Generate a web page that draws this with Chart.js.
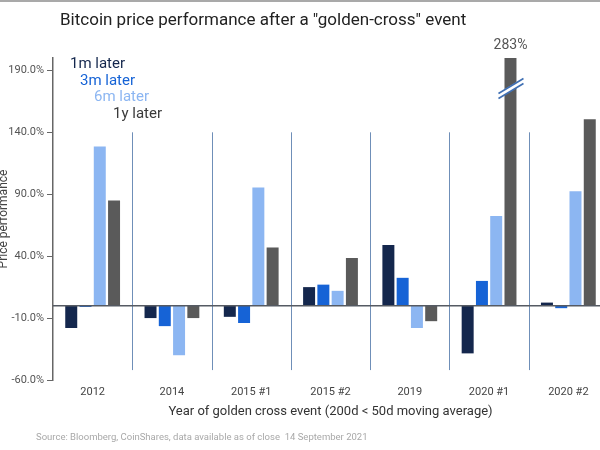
<!DOCTYPE html>
<html>
<head>
<meta charset="utf-8">
<script src="https://cdn.jsdelivr.net/npm/chart.js@4"></script>
<style>
  html, body { margin: 0; padding: 0; width: 600px; height: 450px; overflow: hidden; background: #fff; }
  #wrap { position: absolute; left: 0; top: 0; width: 612px; height: 450px; }
  #topline { position: absolute; left: 0; top: 0; width: 600px; height: 2px; background: #a9a9a9; z-index: 2; }
</style>
</head>
<body>
<div id="topline"></div>
<div id="wrap"><canvas id="c" width="612" height="450"></canvas></div>
<script>
const categories = ['2012', '2014', '2015 #1', '2015 #2', '2019', '2020 #1', '2020 #2'];
const seriesNames = ['1m later', '3m later', '6m later', '1y later'];
const oneMonth   = [-18, -10, -9, 15, 49, -38.5, 2.5];
const threeMonth = [-1, -16.5, -14, 17, 22.5, 20, -2];
const sixMonth   = [128.5, -40, 95.5, 12, -18, 72.5, 92.5];
const oneYear    = [85, -10, 47, 38.5, -12.5, 283, 150.5];
const tickValues = [-60, -10, 40, 90, 140, 190];
const yMin = -60, yMax = 200;
const colors = ['#14274d', '#1663d6', '#8cb6f2', '#5a5a5a'];
const titleText = 'Bitcoin price performance after a "golden-cross" event';
const sourceText = 'Source: Bloomberg, CoinShares, data available as of close  14 September 2021';
const xTitle = 'Year of golden cross event (200d < 50d moving average)';
const yTitle = 'Price performance';

const FONT = 'Roboto, "Noto Sans", sans-serif';
const allSeries = [oneMonth, threeMonth, sixMonth, oneYear];

const decorPlugin = {
  id: 'decor',
  beforeDatasetsDraw(chart) {
    const ctx = chart.ctx, x = chart.scales.x, y = chart.scales.y;
    ctx.save();
    ctx.strokeStyle = '#6f8fb8';
    ctx.lineWidth = 1;
    for (let i = 0; i < categories.length - 1; i++) {
      const px = Math.round((x.getPixelForValue(i) + x.getPixelForValue(i + 1)) / 2) + 0.5;
      ctx.beginPath();
      ctx.moveTo(px, y.getPixelForValue(140));
      ctx.lineTo(px, y.getPixelForValue(-52));
      ctx.stroke();
    }
    ctx.restore();
  },
  afterDatasetsDraw(chart) {
    const ctx = chart.ctx, y = chart.scales.y, ca = chart.chartArea;
    ctx.save();
    const zy = y.getPixelForValue(0);
    ctx.strokeStyle = '#555a63';
    ctx.lineWidth = 1.5;
    ctx.beginPath();
    ctx.moveTo(ca.left, zy);
    ctx.lineTo(ca.right, zy);
    ctx.stroke();

    chart.data.datasets.forEach((ds, di) => {
      const meta = chart.getDatasetMeta(di);
      ds.data.forEach((v, i) => {
        if (v > yMax) {
          const bar = meta.data[i];
          const bx = bar.x;
          const by = y.getPixelForValue(175);
          ctx.lineCap = 'butt';
          ctx.strokeStyle = '#ffffff';
          ctx.lineWidth = 5;
          ctx.beginPath();
          ctx.moveTo(bx - 12, by + 7);
          ctx.lineTo(bx + 13, by - 8);
          ctx.stroke();
          ctx.strokeStyle = '#3f6fb3';
          ctx.lineWidth = 1.6;
          [-2.5, 2.5].forEach(off => {
            ctx.beginPath();
            ctx.moveTo(bx - 12, by + 7 + off);
            ctx.lineTo(bx + 13, by - 8 + off);
            ctx.stroke();
          });
          ctx.fillStyle = '#555555';
          ctx.font = '14px ' + FONT;
          ctx.textAlign = 'center';
          ctx.textBaseline = 'middle';
          ctx.fillText(Math.round(v) + '%', bx, ca.top - 13);
        }
      });
    });
    ctx.restore();
  },
  afterDraw(chart) {
    const ctx = chart.ctx;
    ctx.save();
    ctx.textBaseline = 'middle';
    ctx.textAlign = 'left';
    ctx.fillStyle = '#222222';
    ctx.font = '17px ' + FONT;
    ctx.fillText(titleText, 60, 21);
    const pos = [[70, 64], [80, 81], [94, 97], [113, 114]];
    ctx.font = '15px ' + FONT;
    chart.data.datasets.forEach((ds, i) => {
      ctx.fillStyle = i === 3 ? '#3a3a3a' : ds.backgroundColor;
      ctx.fillText(ds.label, pos[i][0], pos[i][1]);
    });
    ctx.fillStyle = '#a8a8a8';
    ctx.font = '9.5px ' + FONT;
    ctx.fillText(sourceText, 36, 438);
    ctx.restore();
  }
};

new Chart(document.getElementById('c'), {
  type: 'bar',
  data: {
    labels: categories,
    datasets: seriesNames.map((n, i) => ({
      label: n,
      data: allSeries[i],
      backgroundColor: colors[i],
      borderWidth: 0,
      barPercentage: 0.84,
      categoryPercentage: 0.72
    }))
  },
  plugins: [decorPlugin],
  options: {
    responsive: false,
    animation: false,
    events: [],
    layout: { padding: { top: 58, right: 4, bottom: 30, left: 0 } },
    plugins: { legend: { display: false }, title: { display: false }, tooltip: { enabled: false } },
    scales: {
      x: {
        type: 'category',
        offset: true,
        grid: { display: false, drawTicks: false, tickLength: 0 },
        border: { display: false },
        ticks: { color: '#444', font: { family: FONT, size: 11 }, padding: 6, maxRotation: 0 },
        title: { display: true, text: xTitle, color: '#333', font: { family: FONT, size: 13 }, padding: { top: 2, bottom: 0 } },
        afterFit(s) { s.height = 40; }
      },
      y: {
        min: yMin,
        max: yMax,
        grid: { drawOnChartArea: false, drawTicks: true, tickLength: 6, color: '#666' },
        border: { display: true, color: '#666', width: 1.5 },
        afterBuildTicks(s) { s.ticks = tickValues.map(v => ({ value: v })); },
        ticks: {
          color: '#555',
          font: { family: FONT, size: 11 },
          padding: 3,
          callback: v => Number(v).toFixed(1) + '%'
        },
        title: { display: true, text: yTitle, color: '#444', font: { family: FONT, size: 12 }, padding: { top: -3, bottom: 0 } },
        afterFit(s) { s.width = 53; }
      }
    }
  }
});
</script>
</body>
</html>
